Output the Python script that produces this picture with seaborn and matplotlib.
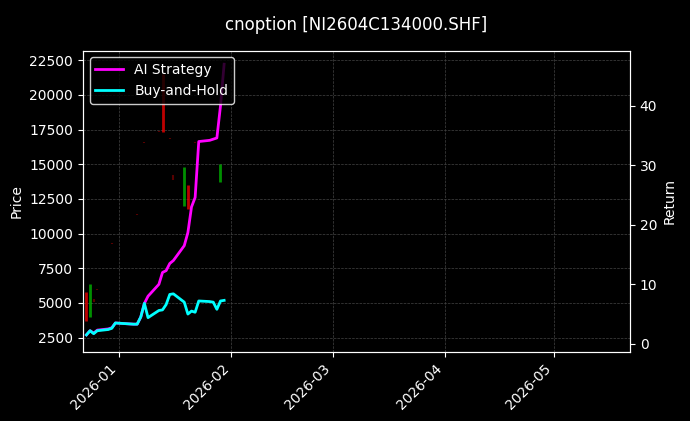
import matplotlib
matplotlib.use("Agg")
import matplotlib.pyplot as plt
import matplotlib.dates as mdates
import seaborn as sns
import pandas as pd
import numpy as np

dates = pd.to_datetime(["2025-12-23","2025-12-24","2025-12-25","2025-12-26","2025-12-29","2025-12-30","2025-12-31",
    "2026-01-05","2026-01-06","2026-01-07","2026-01-08","2026-01-09","2026-01-12","2026-01-13","2026-01-14",
    "2026-01-15","2026-01-16","2026-01-19","2026-01-20","2026-01-21","2026-01-22","2026-01-23","2026-01-26",
    "2026-01-27","2026-01-28","2026-01-29","2026-01-30"])
ai_ret = [1.5,2.2,1.8,2.3,2.5,2.7,3.5,3.3,3.3,4.5,6.8,8.0,10.0,12.0,12.3,13.5,14.0,16.5,18.7,23.0,24.6,34.0,34.2,34.4,34.6,40.0,47.0]
bh_ret = [1.5,2.2,1.7,2.2,2.4,2.6,3.5,3.3,3.3,4.5,6.8,4.4,5.6,5.7,6.6,8.3,8.4,7.0,5.0,5.5,5.3,7.2,7.1,7.0,5.8,7.2,7.3]
opens  = [5800,4000,5300,6000,6600,9300,8700,11300,11400,17500,16600,16700,17400,21500,17200,16900,14200,12000,13500,16700,16600,16700,17000,16900,17100,13700,17000]
closes = [3700,6400,5100,5950,6550,9250,8650,11250,11350,17450,16550,16650,17350,17300,17150,16850,13900,14800,11800,16650,16550,16650,16950,16850,17050,15000,16950]

fig, ax = plt.subplots(figsize=(6.9, 4.21), dpi=100)
fig.patch.set_facecolor("black")
ax.set_facecolor("black")
for d, o, c in zip(dates, opens, closes):
    col = "#00c000" if c > o else "#ff0000"
    big = abs(c - o) > 300
    ax.vlines(d, min(o, c), max(o, c), color=col, lw=2 if big else 1.5, alpha=0.75 if big else 0.35)
ax.set_ylim(1500, 23200)
ax.set_xlim(pd.Timestamp("2025-12-22"), pd.Timestamp("2026-05-22"))
ax.set_ylabel("Price", color="white")
ax.grid(True, color="#444444", ls="--", lw=0.5)

ax2 = ax.twinx()
df = pd.DataFrame({"date": dates, "AI Strategy": ai_ret, "Buy-and-Hold": bh_ret})
sns.lineplot(data=df, x="date", y="AI Strategy", ax=ax2, color="#ff00ff", lw=2, label="AI Strategy")
sns.lineplot(data=df, x="date", y="Buy-and-Hold", ax=ax2, color="#00ffff", lw=2, label="Buy-and-Hold")
ax2.set_ylim(-1.3, 49.3)
ax2.set_ylabel("Return", color="white")
ax2.set_xlabel("")
leg = ax2.legend(loc="upper left", facecolor="black", edgecolor="white", labelcolor="white")

for a in (ax, ax2):
    a.tick_params(colors="white")
    for s in a.spines.values():
        s.set_color("white")
ax.xaxis.set_major_locator(mdates.MonthLocator())
ax.xaxis.set_major_formatter(mdates.DateFormatter("%Y-%m"))
plt.setp(ax.get_xticklabels(), rotation=45, ha="right")
ax.set_title("cnoption [NI2604C134000.SHF]", color="white", pad=15)
fig.subplots_adjust(left=0.12, right=0.913, top=0.88, bottom=0.165)
fig.savefig("out.png", facecolor="black")
